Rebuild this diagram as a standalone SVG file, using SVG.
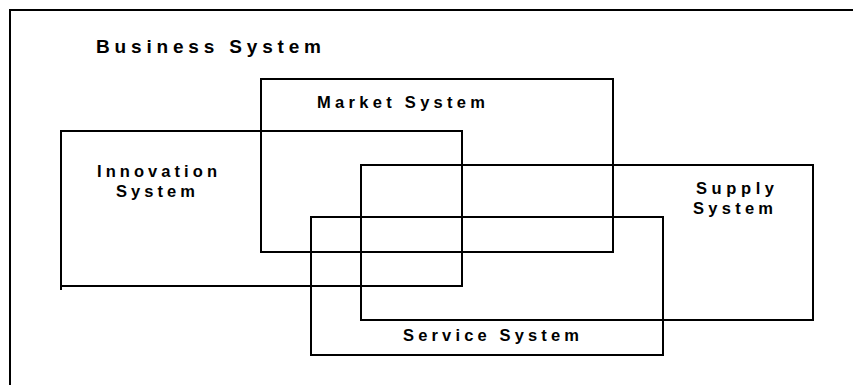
<svg xmlns="http://www.w3.org/2000/svg" width="853" height="385" viewBox="0 0 853 385">
<style>
.box{fill:none;stroke:#000;stroke-width:2}
.lbl{font-family:"Liberation Sans",Arial,sans-serif;font-weight:bold;font-size:16.5px;fill:#000}
.title{font-size:19px}
</style>
<rect width="853" height="385" fill="#fff"/>
<g id="business">
<path class="box" d="M10,385 V10 H853"/>
<text class="lbl title" x="96" y="53" textLength="225" lengthAdjust="spacing">Business System</text>
</g>
<g id="market">
<rect class="box" x="261" y="79" width="352" height="173"/>
<text class="lbl" x="317" y="108" textLength="168" lengthAdjust="spacing">Market System</text>
</g>
<g id="innovation">
<rect class="box" x="61" y="131" width="401" height="155"/>
<path class="box" d="M61,286 V290"/>
<text class="lbl" x="97" y="177" textLength="120" lengthAdjust="spacing">Innovation</text>
<text class="lbl" x="116" y="197" textLength="79" lengthAdjust="spacing">System</text>
</g>
<g id="supply">
<rect class="box" x="361" y="165" width="452" height="155"/>
<text class="lbl" x="696" y="194" textLength="78" lengthAdjust="spacing">Supply</text>
<text class="lbl" x="693" y="214" textLength="80" lengthAdjust="spacing">System</text>
</g>
<g id="service">
<rect class="box" x="311" y="217" width="352" height="138"/>
<text class="lbl" x="403" y="341" textLength="176" lengthAdjust="spacing">Service System</text>
</g>
<g id="connectors"></g>
</svg>
